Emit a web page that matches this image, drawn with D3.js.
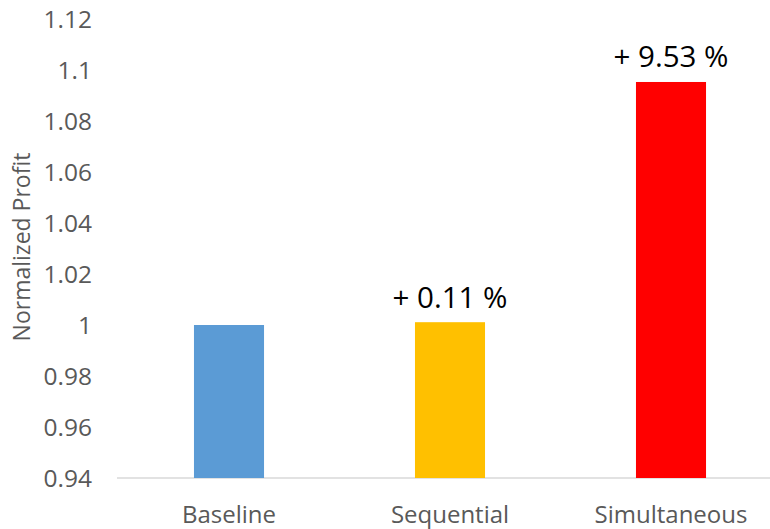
<!DOCTYPE html>
<html><head><meta charset="utf-8">
<script src="https://cdn.jsdelivr.net/npm/d3@7"></script>
<style>body{margin:0;background:#fff}svg{display:block}text{font-family:"Open Sans",sans-serif}</style>
</head><body>
<script>
const categories = ["Baseline", "Sequential", "Simultaneous"];
const values = [1.0, 1.0011, 1.0953];
const labels = ["", "+ 0.11 %", "+ 9.53 %"];
const colors = ["#5B9BD5", "#FFC000", "#FF0000"];
const yTicks = [0.94, 0.96, 0.98, 1.0, 1.02, 1.04, 1.06, 1.08, 1.1, 1.12];
const yTickLabels = ["0.94", "0.96", "0.98", "1", "1.02", "1.04", "1.06", "1.08", "1.1", "1.12"];

const W = 770, H = 529;
const svg = d3.select("body").append("svg").attr("width", W).attr("height", H);

const y = d3.scaleLinear().domain([0.94, 1.12]).range([478, 19]);
const x = d3.scaleBand().domain(categories).range([118.5, 781.5]).paddingInner(0.683).paddingOuter(0.3415);

// baseline axis
svg.append("line").attr("x1", 117).attr("x2", W).attr("y1", y(0.94)).attr("y2", y(0.94))
  .attr("stroke", "#D9D9D9").attr("stroke-width", 1.5);

// y axis labels
const yAxis = d3.axisLeft(y).tickValues(yTicks).tickFormat((d, i) => yTickLabels[i]).tickSize(0).tickPadding(0);
const ya = svg.append("g").attr("transform", "translate(92,0)").call(yAxis);
ya.select(".domain").remove();
ya.selectAll("text").attr("fill", "#595959").style("font-size", "24.5px").attr("dy", "0.36em");

// bars
svg.selectAll("rect.bar").data(categories).enter().append("rect")
  .attr("x", d => x(d)).attr("width", x.bandwidth())
  .attr("y", (d, i) => y(values[i])).attr("height", (d, i) => y(0.94) - y(values[i]))
  .attr("fill", (d, i) => colors[i]);

// x labels
const xAxis = d3.axisBottom(x).tickSize(0).tickPadding(0);
const xa = svg.append("g").attr("transform", "translate(0,478)").call(xAxis);
xa.select(".domain").remove();
xa.selectAll("text").attr("fill", "#595959").style("font-size", "24px").attr("y", 45).attr("dy", 0);

// annotations
svg.selectAll("text.ann").data(categories).enter().append("text")
  .attr("class", "ann")
  .attr("x", d => x(d) + x.bandwidth() / 2)
  .attr("y", (d, i) => y(values[i]) - 14.5)
  .attr("text-anchor", "middle").attr("fill", "#000").style("font-size", "29.5px")
  .text((d, i) => labels[i]);

// y title
svg.append("text").attr("transform", "translate(30,247) rotate(-90)")
  .attr("text-anchor", "middle").attr("fill", "#595959").style("font-size", "23px")
  .text("Normalized Profit");
</script>
</body></html>
